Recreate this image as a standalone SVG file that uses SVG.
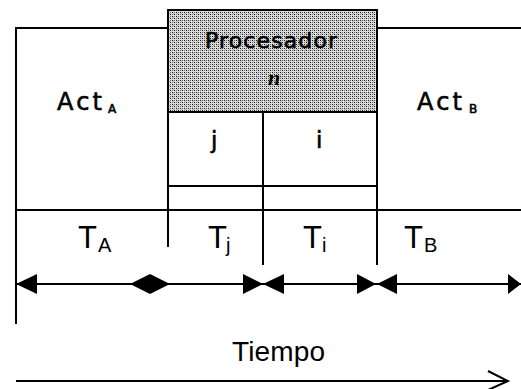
<svg xmlns="http://www.w3.org/2000/svg" width="521" height="389" viewBox="0 0 521 389">
<defs>
<pattern id="dots" width="4" height="4" patternUnits="userSpaceOnUse">
<rect width="4" height="4" fill="#dcdcdc"/>
<rect x="0" y="0" width="1" height="1" fill="#111"/>
<rect x="2" y="2" width="1" height="1" fill="#111"/>
<rect x="2" y="0" width="1" height="1" fill="#666"/>
<rect x="0" y="2" width="1" height="1" fill="#777"/>
<rect x="1" y="1" width="1" height="1" fill="#aaa"/>
</pattern>
</defs>
<style>
.ln{stroke:#000;stroke-width:2;fill:none}
.hd{fill:#000;stroke:none}
.hand{font-family:"DejaVu Sans",sans-serif;fill:#000;stroke:#000;stroke-width:0.6}
.ar{font-family:"Liberation Sans",Arial,sans-serif;fill:#000}
</style>
<rect width="521" height="389" fill="#fff"/>
<g id="actA">
<path class="ln" d="M16,324 V28 H168"/>
<text class="hand" x="57" y="110" font-size="24" textLength="45">Act</text>
<text class="hand" x="108" y="113" font-size="12">A</text>
</g>
<g id="procesador">
<rect x="168" y="10" width="209" height="102" fill="url(#dots)" stroke="#000" stroke-width="2"/>
<text class="hand" x="205" y="48" font-size="22" textLength="132">Procesador</text>
<text x="268" y="85" font-family="Liberation Serif,serif" font-style="italic" font-weight="bold" font-size="22" fill="#000">n</text>
</g>
<g id="actB">
<path class="ln" d="M377,28 H521"/>
<text class="hand" x="417" y="110" font-size="24" textLength="45">Act</text>
<text class="hand" x="469" y="113" font-size="12">B</text>
</g>
<g id="j">
<path class="ln" d="M168,112 V247 M168,186 H263"/>
<text class="hand" x="211" y="148" font-size="23">j</text>
</g>
<g id="i">
<path class="ln" d="M263,112 V265 M377,112 V265 M263,186 H377"/>
<text class="hand" x="316" y="148" font-size="23">i</text>
</g>
<g id="timeline">
<path class="ln" d="M16,210 H521"/>
<text class="ar" x="78" y="248" font-size="31">T</text><text class="ar" x="98" y="252" font-size="20">A</text>
<text class="ar" x="208" y="248" font-size="31">T</text><text class="ar" x="226" y="252" font-size="20">j</text>
<text class="ar" x="303" y="248" font-size="31">T</text><text class="ar" x="322" y="252" font-size="20">i</text>
<text class="ar" x="404" y="248" font-size="31">T</text><text class="ar" x="424" y="252" font-size="20">B</text>
<text class="ar" x="232" y="361" font-size="28" textLength="93">Tiempo</text>
</g>
<g id="connectors">
<path class="ln" d="M16,284 H521"/>
<polygon class="hd" points="16,284 37,274 37,294"/>
<polygon class="hd" points="130,284 150,274 170,284 150,294"/>
<polygon class="hd" points="263,284 243,274 243,294"/>
<polygon class="hd" points="263,284 284,274 284,294"/>
<polygon class="hd" points="376,284 357,274 357,294"/>
<polygon class="hd" points="377,284 397,274 397,294"/>
<polygon class="hd" points="521,284 508,274 508,294"/>
<path class="ln" d="M16,381 H508"/>
<path class="ln" d="M488,371 L508,381 L488,390"/>
</g>
</svg>
